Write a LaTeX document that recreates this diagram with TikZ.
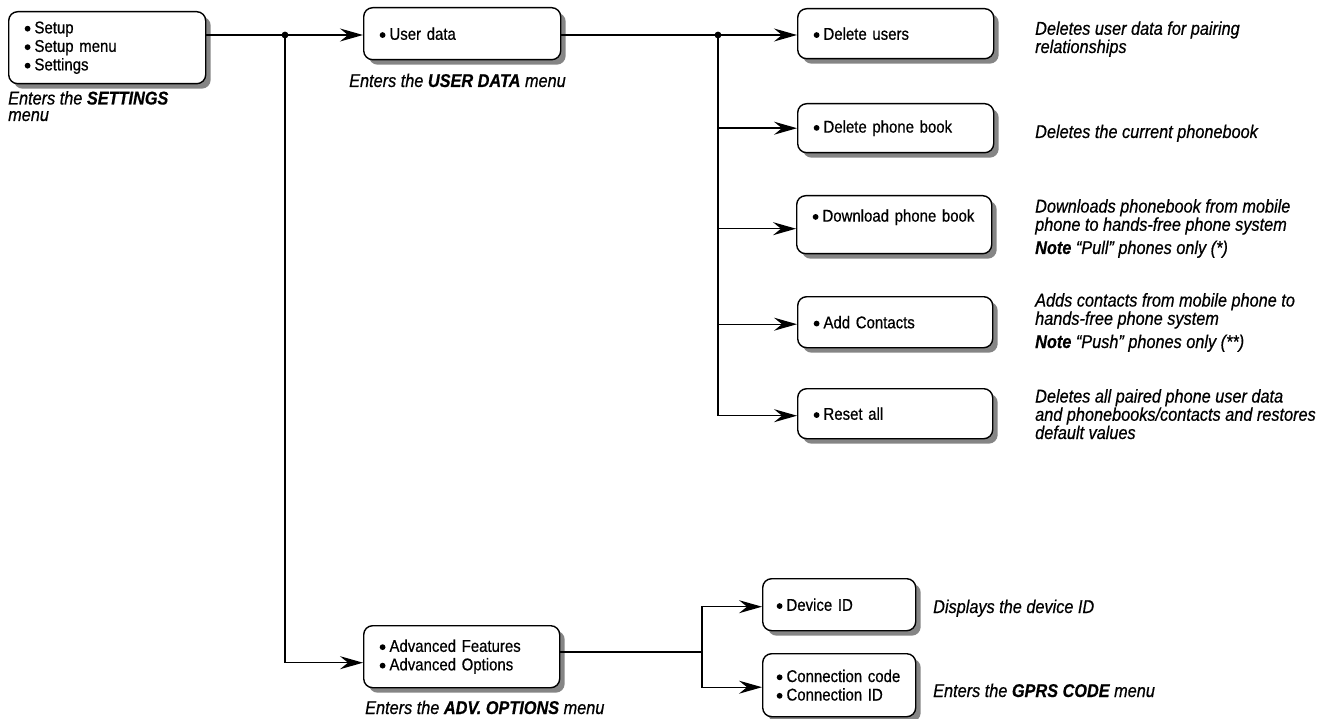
\documentclass[tikz,border=0pt]{standalone}
\usepackage{fontspec}
\setmainfont{Liberation Sans}[FakeStretch=0.88,
  UprightFeatures={FakeBold=0.6}, ItalicFeatures={FakeBold=0.6},
  BoldFeatures={FakeBold=0.6}, BoldItalicFeatures={FakeBold=0.6}]
\usetikzlibrary{arrows.meta,shadows}
\newcommand\bxfont{\fontsize{17}{18.5}\selectfont}
\newcommand\dscfont{\fontsize{18.5}{16.5}\selectfont\itshape}
\tikzset{
  menubox/.style={draw, line width=1.4pt, rounded corners=9pt, fill=white,
    drop shadow={shadow xshift=5pt, shadow yshift=-5pt, fill=black!48, opacity=1},
    align=left, anchor=north west, inner xsep=16pt, inner ysep=0pt, font=\bxfont},
  desc/.style={anchor=base west, align=left, inner sep=0pt, font=\dscfont},
  conn/.style={line width=1.4pt},
  arr/.style={conn, -{Stealth[length=23pt, width=13pt, inset=8pt]}},
  jdot/.style={fill=black}
}
\newcommand\bul{\raisebox{1.8pt}{\tikz\fill (0,0) circle (2.9pt);}\hspace{4pt}}
\begin{document}
\begin{tikzpicture}[x=1pt, y=-1pt]
\useasboundingbox (0,0) rectangle (1322,719);
% boxes
\node[menubox, text width=165, minimum height=72] (set) at (8,11) {\bul Setup\\ \bul Setup menu\\ \bul Settings};
\node[menubox, text width=165, minimum height=52] (ud) at (363,7) {\bul User data};
\node[menubox, text width=164, minimum height=62] (adv) at (363,625) {\bul Advanced Features\\ \bul Advanced Options};
\node[menubox, text width=164, minimum height=50] (du) at (797,8) {\bul Delete users};
\node[menubox, text width=164, minimum height=49] (dp) at (797,103) {\bul Delete phone book};
\node[menubox, text width=163, minimum height=58] (dl) at (796,195) {\bul Download phone book\\ \mbox{}};
\node[menubox, text width=163, minimum height=51] (ac) at (797,296) {\bul Add Contacts};
\node[menubox, text width=163, minimum height=50] (ra) at (797,388) {\bul Reset all};
\node[menubox, inner xsep=14pt, text width=125, minimum height=52] (dev) at (762,578) {\bul Device ID};
\node[menubox, inner xsep=14pt, text width=125, minimum height=63] (con) at (762,653) {\mbox{\bul Connection code}\\ \mbox{\bul Connection ID}};
% captions (anchor = baseline of last line)
\node[desc] (capset) at (8,121) {Enters the \textbf{SETTINGS}\\ menu};
\node[desc] (capud) at (349,87) {Enters the \textbf{USER DATA} menu};
\node[desc] (capadv) at (365,714) {Enters the \textbf{ADV. OPTIONS} menu};
% descriptions
\node[desc] (ddu) at (1035,53) {Deletes user data for pairing\\ relationships};
\node[desc] (ddp) at (1035,138) {Deletes the current phonebook};
\node[desc] (ddl) at (1035,254) {Downloads phonebook from mobile\\ phone to hands-free phone system\\[5pt] \textbf{Note} “Pull” phones only (*)};
\node[desc] (dac) at (1035,348) {Adds contacts from mobile phone to\\ hands-free phone system\\[5pt] \textbf{Note} “Push” phones only (**)};
\node[desc] (dra) at (1035,439) {Deletes all paired phone user data\\ and phonebooks/contacts and restores\\ default values};
\node[desc] (ddev) at (933,613) {Displays the device ID};
\node[desc] (dcon) at (933,697) {Enters the \textbf{GPRS CODE} menu};
% junctions
\coordinate (j1) at (285,35);
\coordinate (j2) at (718,35);
\coordinate (j3) at (702,652);
% connectors
\draw[conn] (set.east |- j1) -- (j1);
\draw[arr] (j1) -- (ud.west |- j1);
\draw[arr] (j1) |- ([yshift=-6pt]adv.west);
\draw[conn] (ud.east |- j2) -- (j2);
\draw[arr] (j2) -- (du.west |- j2);
\draw[arr] (j2) |- (dp.west);
\draw[arr] (j2) |- ([yshift=-4pt]dl.west);
\draw[arr] (j2) |- ([yshift=-2pt]ac.west);
\draw[arr] (j2) |- ([yshift=-2pt]ra.west);
\draw[conn] (adv.east |- j3) -- (j3);
\draw[arr] (j3) |- ([yshift=-2pt]dev.west);
\draw[arr] (j3) |- ([yshift=-2pt]con.west);
\fill[jdot] (j1) circle (3.4pt);
\fill[jdot] (j2) circle (3.4pt);
\end{tikzpicture}
\end{document}
